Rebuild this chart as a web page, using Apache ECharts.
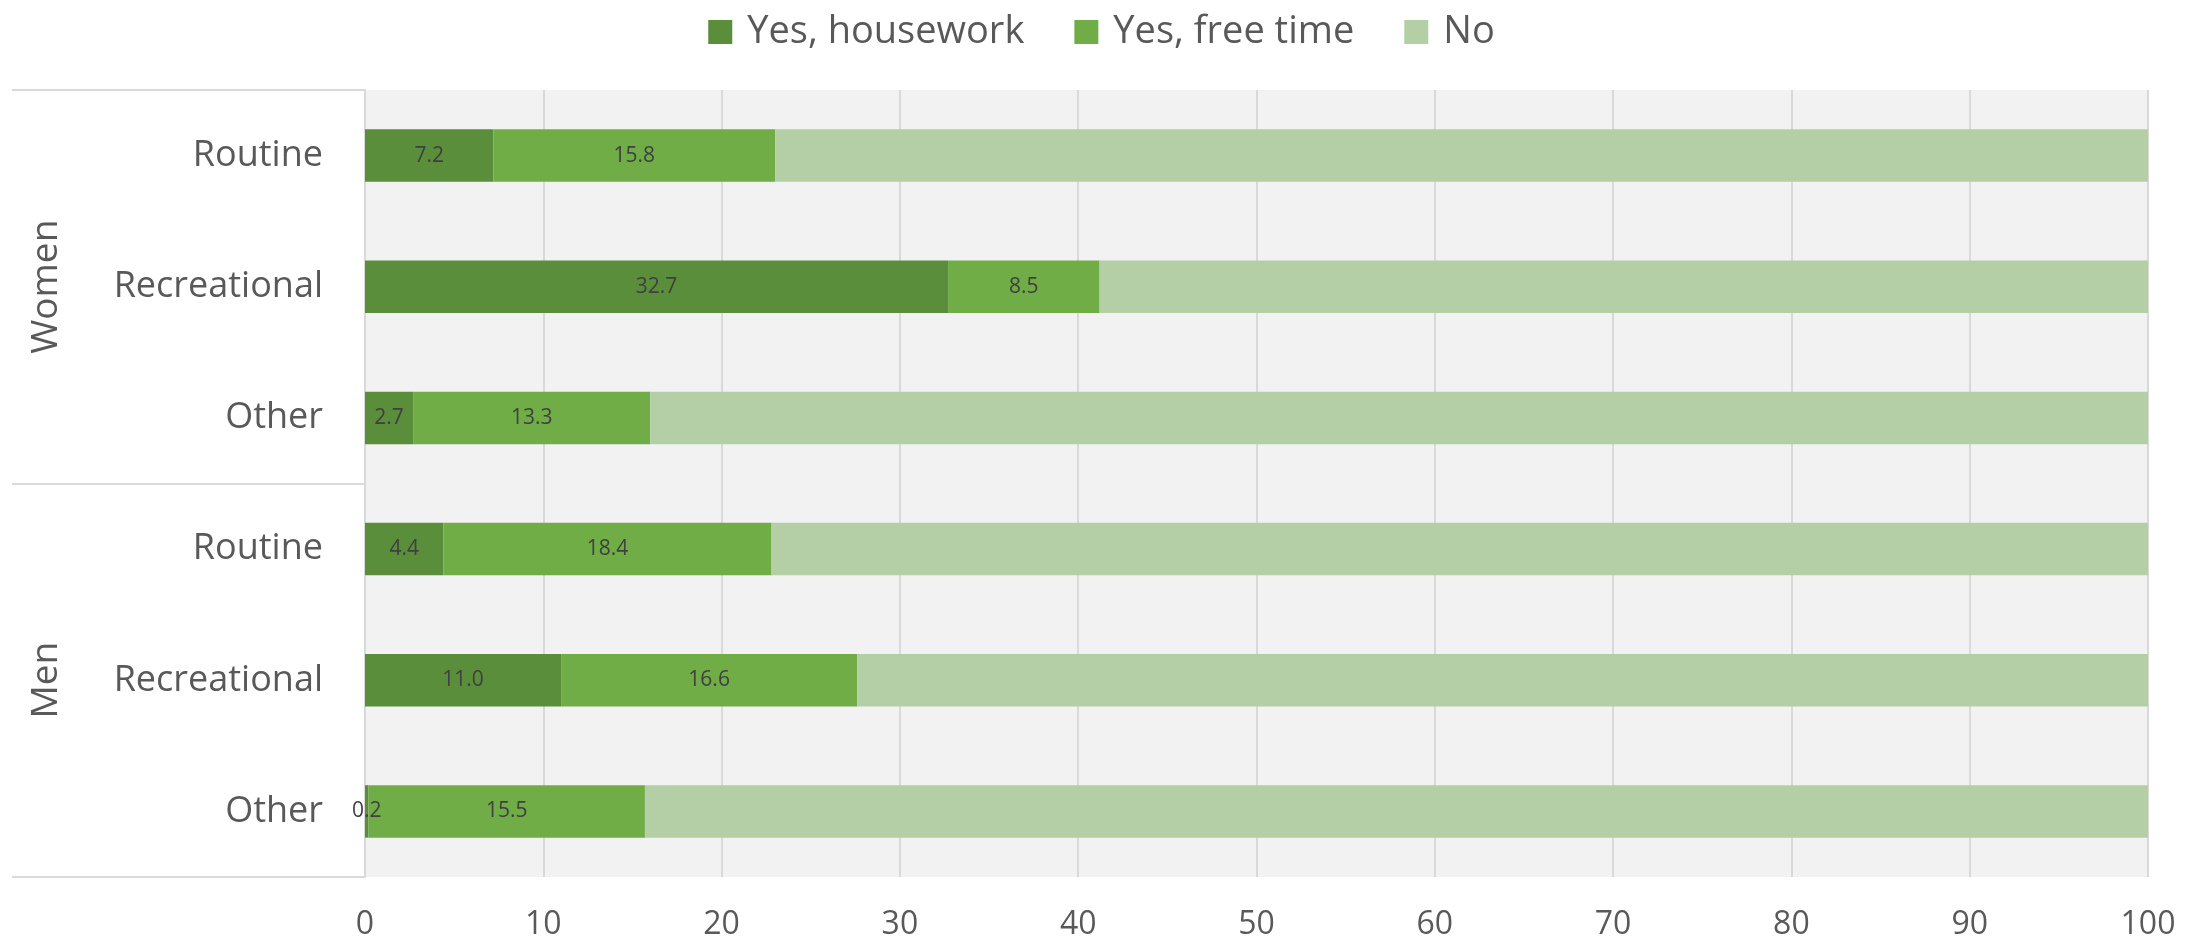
<!DOCTYPE html>
<html>
<head>
<meta charset="utf-8">
<script src="https://cdn.jsdelivr.net/npm/echarts@6/dist/echarts.min.js"></script>
<style>
html,body{margin:0;padding:0;background:#fff;}
#chart{width:2203px;height:942px;}
</style>
</head>
<body>
<div id="chart"></div>
<script>
var groups = ['Women', 'Men'];
var activities = ['Routine', 'Recreational', 'Other'];
var categories = ['Routine', 'Recreational', 'Other', 'Routine', 'Recreational', 'Other'];
var housework = [7.2, 32.7, 2.7, 4.4, 11.0, 0.2];
var freeTime = [15.8, 8.5, 13.3, 18.4, 16.6, 15.5];
var noValues = [77.0, 58.8, 84.0, 77.2, 72.4, 84.3];
var xTicks = [0, 10, 20, 30, 40, 50, 60, 70, 80, 90, 100];

var FONT = '"Open Sans", "Noto Sans", sans-serif';
var chart = echarts.init(document.getElementById('chart'));

function labelCfg() {
  return {
    show: true, position: 'inside', color: '#404040', fontSize: 21, fontFamily: FONT,
    formatter: function (p) { return p.value.toFixed(1); }
  };
}

chart.setOption({
  animation: false,
  backgroundColor: '#ffffff',
  textStyle: { fontFamily: FONT },
  legend: {
    top: 8, left: 'center', itemWidth: 24, itemHeight: 24, itemGap: 50, icon: 'rect',
    textStyle: { fontSize: 38, color: '#595959', fontFamily: FONT, padding: [0, 0, 0, 10] },
    data: ['Yes, housework', 'Yes, free time', 'No']
  },
  grid: {
    left: 365, right: 55, top: 90, bottom: 65,
    show: true, backgroundColor: '#F2F2F2', borderWidth: 0
  },
  xAxis: {
    type: 'value', min: xTicks[0], max: xTicks[xTicks.length - 1], interval: 10,
    axisLine: { show: false }, axisTick: { show: false },
    axisLabel: { fontSize: 32, color: '#595959', margin: 32, fontFamily: FONT },
    splitLine: { show: true, lineStyle: { color: '#D9D9D9', width: 2 } }
  },
  yAxis: [
    {
      type: 'category', data: categories, inverse: true,
      axisLine: { show: true, lineStyle: { color: '#D9D9D9', width: 2 } },
      axisTick: { show: false },
      axisLabel: { fontSize: 36, color: '#595959', margin: 42, fontFamily: FONT }
    },
    {
      type: 'category', data: groups, inverse: true, position: 'left',
      axisLine: { show: false },
      axisTick: { show: true, length: 353, lineStyle: { color: '#D9D9D9', width: 2 } },
      axisLabel: { rotate: 90, fontSize: 37, color: '#595959', margin: 300, fontFamily: FONT },
      splitLine: { show: false }
    }
  ],
  series: [
    { name: 'Yes, housework', type: 'bar', stack: 'total', barWidth: '40%', data: housework,
      itemStyle: { color: '#5A8E3A' }, label: labelCfg(), emphasis: { disabled: true } },
    { name: 'Yes, free time', type: 'bar', stack: 'total', data: freeTime,
      itemStyle: { color: '#70AD47' }, label: labelCfg(), emphasis: { disabled: true } },
    { name: 'No', type: 'bar', stack: 'total', data: noValues,
      itemStyle: { color: '#B4CFA6' }, label: { show: false }, emphasis: { disabled: true } }
  ]
});
</script>
</body>
</html>
